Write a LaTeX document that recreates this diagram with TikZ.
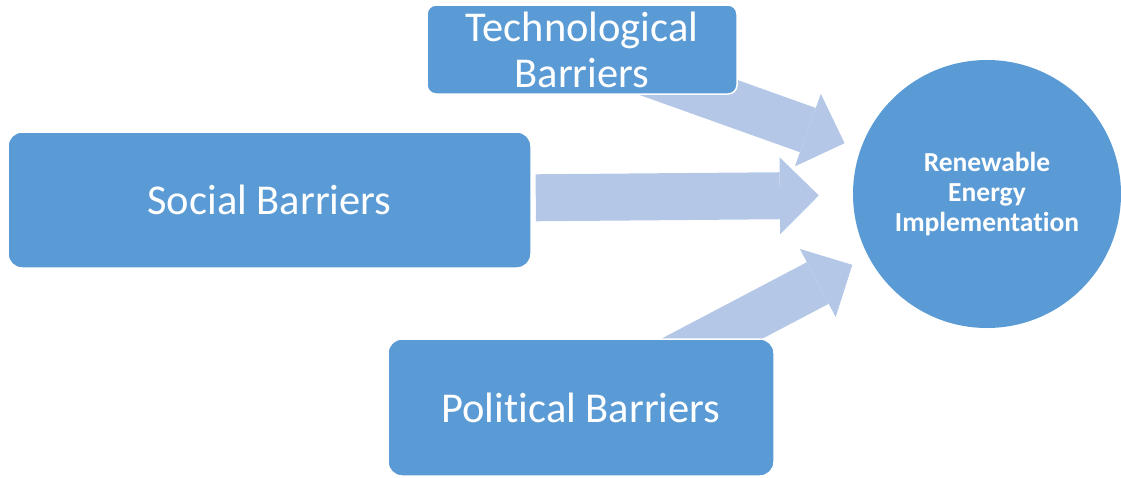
\documentclass[tikz,border=0pt]{standalone}
\usepackage{fontspec}
\setmainfont[Ligatures=NoCommon]{Carlito}
\usepackage{tikz}
\usetikzlibrary{arrows.meta, backgrounds}

\definecolor{boxblue}{HTML}{5B9BD5}
\definecolor{arrowblue}{HTML}{B4C7E7}

\begin{document}
\begin{tikzpicture}[x=1pt, y=-1pt,
  barrier/.style={draw=white, line width=1.5pt, fill=boxblue, text=white,
    align=center, inner sep=0pt, font=\fontsize{42.5}{46}\selectfont},
  fatarrow/.style={arrowblue, line width=47pt,
    -{Triangle[length=39pt, width=77pt, line width=0pt]}}]
\useasboundingbox (0,0) rectangle (1121,477);
\node[barrier, minimum width=310pt, minimum height=89pt, rounded corners=9pt] (tech) at (582,49.5) {Technological\\Barriers};
\node[barrier, minimum width=523pt, minimum height=136pt, rounded corners=14pt] (social) at (269.5,200) {Social Barriers};
\node[barrier, minimum width=386pt, minimum height=137pt, rounded corners=14pt] (political) at (581,407.5) {Political Barriers};
\node[circle, fill=boxblue, text=white, minimum size=268pt, align=center,
  font=\fontsize{27.5}{30}\selectfont\bfseries] (goal) at (987,194) {Renewable\\Energy\\Implementation};
% arrows go under the boxes
\begin{scope}[on background layer]
\draw[fatarrow, shorten >=17pt] (tech.center) -- (goal);
\draw[fatarrow, shorten <=4pt, shorten >=34pt] (social) -- (goal);
\draw[fatarrow, shorten >=18pt] (political.center) -- (goal);
\end{scope}
\end{tikzpicture}
\end{document}
